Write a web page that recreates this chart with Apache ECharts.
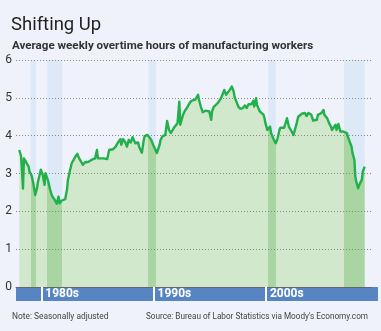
<!DOCTYPE html>
<html><head><meta charset="utf-8">
<script src="https://cdn.jsdelivr.net/npm/echarts@6/dist/echarts.min.js"></script>
<style>html,body{margin:0;padding:0;background:#EFF2FA}#c{width:381px;height:331px}</style>
</head><body><div id="c"></div>
<script>
// Average weekly overtime hours of manufacturing workers
const months = [
'1979-01','1979-03','1979-05','1979-06','1979-07','1979-09','1979-11','1979-12',
'1980-02','1980-04','1980-06','1980-08','1980-09','1980-12',
'1981-02','1981-04','1981-05','1981-07','1981-08','1981-10','1981-12',
'1982-01','1982-03','1982-05','1982-07','1982-08','1982-10','1982-12',
'1983-02','1983-04','1983-05','1983-07','1983-09','1983-11',
'1984-01','1984-03','1984-05','1984-07','1984-09','1984-11',
'1985-03','1985-04','1985-06','1985-08','1985-10','1985-12',
'1986-01','1986-03','1986-07','1986-09','1986-11',
'1987-01','1987-03','1987-05','1987-08','1987-11',
'1988-01','1988-02','1988-04','1988-06','1988-08','1988-10','1988-12',
'1989-02','1989-04','1989-05','1989-08','1989-09','1989-11','1989-12',
'1990-02','1990-03','1990-06','1990-08','1990-10','1990-12',
'1991-02','1991-04','1991-06','1991-07','1991-08','1991-10','1991-12',
'1992-01','1992-03','1992-05','1992-07','1992-09','1992-10','1992-12',
'1993-02','1993-04','1993-05','1993-07','1993-08','1993-10','1993-12',
'1994-02','1994-03','1994-05','1994-07','1994-09','1994-11','1994-12',
'1995-01','1995-03','1995-05','1995-06','1995-08','1995-10','1995-12',
'1996-02','1996-03','1996-05','1996-07','1996-09','1996-10','1996-12',
'1997-02','1997-04','1997-06','1997-07','1997-08','1997-10','1997-12',
'1998-02','1998-03','1998-05','1998-07','1998-09','1998-11','1998-12',
'1999-02','1999-04','1999-06','1999-08','1999-09','1999-11','1999-12',
'2000-02','2000-03','2000-04','2000-06','2000-08','2000-10','2000-11','2000-12',
'2001-02','2001-04','2001-05','2001-06','2001-07','2001-09','2001-11',
'2002-01','2002-03','2002-04','2002-06','2002-08','2002-10','2002-11',
'2003-01','2003-02','2003-04','2003-06','2003-08','2003-09','2003-11',
'2004-01','2004-03','2004-04','2004-06','2004-08','2004-10','2004-12',
'2005-01','2005-03','2005-05','2005-07','2005-08','2005-10','2005-12',
'2006-02','2006-03','2006-05','2006-06','2006-08','2006-10','2006-11',
'2007-01','2007-03','2007-04','2007-06','2007-08','2007-09','2007-11',
'2008-01','2008-03','2008-04','2008-06','2008-08','2008-09','2008-11','2008-12',
'2009-01','2009-03','2009-05','2009-07','2009-08','2009-10'
];
const overtime = [
3.62,3.45,2.60,3.40,3.36,3.27,3.18,3.05,
2.96,2.74,2.43,2.62,2.79,3.10,
2.96,2.70,3.01,2.96,2.79,2.57,2.41,
2.37,2.30,2.20,2.39,2.21,2.28,2.30,
2.32,2.57,2.83,3.05,3.27,3.36,
3.45,3.52,3.40,3.40,3.23,3.29,
3.31,3.27,3.36,3.36,3.40,3.62,
3.40,3.40,3.40,3.45,3.38,
3.62,3.67,3.64,3.71,3.84,
3.91,3.76,3.91,3.84,3.71,3.89,3.82,
3.96,3.99,3.80,3.82,3.71,3.76,3.55,
3.89,3.99,4.02,3.98,3.89,3.76,
3.65,3.54,3.49,3.76,3.89,3.98,3.93,
4.02,4.39,4.15,4.07,4.11,4.20,4.24,
4.33,4.90,4.29,4.46,4.55,4.66,4.73,
4.68,4.86,4.92,4.97,4.95,4.99,5.08,
4.95,4.77,4.62,4.62,4.66,4.70,4.64,
4.42,4.64,4.77,4.81,4.86,4.90,4.97,
5.08,5.21,5.08,5.03,5.12,5.21,5.30,
5.17,5.03,4.90,4.77,4.71,4.71,4.73,
4.80,4.73,4.83,4.81,4.83,4.92,4.77,
4.99,4.81,4.77,4.64,4.59,4.55,4.46,4.33,
4.15,4.11,4.24,4.07,4.02,3.89,3.80,
3.93,4.15,4.21,4.21,4.21,4.24,4.46,
4.24,4.20,4.11,4.02,4.07,4.29,4.50,
4.55,4.58,4.55,4.60,4.52,4.60,4.55,
4.55,4.40,4.40,4.42,4.55,4.60,4.60,
4.68,4.55,4.58,4.46,4.33,4.24,4.15,
4.17,4.29,4.15,4.31,4.11,4.15,4.11,
4.08,4.07,3.98,3.84,3.71,3.54,3.36,2.92,
2.79,2.61,2.74,2.83,3.05,3.18
];
const recessionStarts = ['1980-01','1981-07','1990-07','2001-03','2007-12'];
const recessionEnds   = ['1980-07','1982-11','1991-03','2001-11','2009-10'];
const decadeTicks  = ['1980-12-16','1990-12-16','2000-12-16'];
const decadeLabels = ['1980s','1990s','2000s'];
const yMin = 0, yMax = 6, yStep = 1;

function toTime(s){const p=s.split('-').map(Number);return new Date(p[0],p[1]-1,p[2]||1).getTime();}

const FONT = 'Roboto, "Noto Sans", sans-serif';
const LIGHT_GREEN = '#D1E8CC', DARK_GREEN = '#A8D5A2', BAND_BLUE = '#DDE9F6';

const seriesData = months.map((m,i)=>[toTime(m), overtime[i]]);
const tickTimes = decadeTicks.map(toTime);

const pieces = [];
let prev = null;
recessionStarts.forEach((s,i)=>{
  const a = toTime(s), b = toTime(recessionEnds[i]);
  pieces.push(prev===null ? {lt:a, color:LIGHT_GREEN} : {gt:prev, lt:a, color:LIGHT_GREEN});
  pieces.push({gte:a, lte:b, color:DARK_GREEN});
  prev = b;
});
pieces.push({gt:prev, color:LIGHT_GREEN});

const chart = echarts.init(document.getElementById('c'), null, {renderer:'canvas'});
chart.setOption({
  animation:false,
  backgroundColor:'#EFF2FA',
  textStyle:{fontFamily:FONT},
  title:[
    {text:'Shifting Up', left:6, top:11, textStyle:{fontFamily:FONT, fontSize:18.5, fontWeight:'normal', color:'#231F20'}},
    {text:'Average weekly overtime hours of manufacturing workers', left:7, top:35, textStyle:{fontFamily:FONT, fontSize:11.6, fontWeight:'bold', color:'#333'}},
    {text:'Note: Seasonally adjusted', left:7, top:308, textStyle:{fontFamily:FONT, fontSize:8.4, fontWeight:'normal', color:'#444'}},
    {text:"Source: Bureau of Labor Statistics via Moody's Economy.com", right:8, top:308, textStyle:{fontFamily:FONT, fontSize:8.2, fontWeight:'normal', color:'#444'}}
  ],
  graphic:[{type:'rect', z:0, shape:{x:16, y:287, width:362, height:14}, style:{fill:'#5785C4'}}],
  grid:{left:16, right:9, top:60, bottom:44, containLabel:false},
  visualMap:{show:false, type:'piecewise', seriesIndex:0, dimension:0, pieces:pieces},
  xAxis:{
    type:'value', min:toTime('1978-09-16'), max:toTime('2010-05-28'), z:5, scale:true,
    axisLine:{show:true, onZero:false, lineStyle:{color:'#666', width:1}},
    axisTick:{show:true, customValues:tickTimes, length:14, lineStyle:{color:'#fff', width:2}},
    axisLabel:{show:true, customValues:tickTimes, margin:7, align:'left', verticalAlign:'middle', padding:[0,0,0,4],
      color:'#fff', fontFamily:FONT, fontSize:12, fontWeight:'bold',
      formatter:function(v){const i=tickTimes.indexOf(v);return i>=0?decadeLabels[i]:'';}},
    splitLine:{show:false}
  },
  yAxis:{
    type:'value', min:yMin, max:yMax, interval:yStep, z:3,
    axisLine:{show:false}, axisTick:{show:false},
    axisLabel:{margin:4, color:'#333', fontFamily:FONT, fontSize:12},
    splitLine:{show:true, lineStyle:{type:[1,2], color:'#8a8a8a', width:1}}
  },
  series:[
    {type:'line', data:seriesData, symbol:'none', z:2, silent:true,
     lineStyle:{width:0, opacity:0}, areaStyle:{opacity:1},
     markArea:{silent:true, itemStyle:{color:BAND_BLUE}, label:{show:false},
       data:recessionStarts.map((s,i)=>[{xAxis:toTime(s), yAxis:yMin},{xAxis:toTime(recessionEnds[i]), yAxis:yMax}])}},
    {type:'line', data:seriesData, symbol:'none', z:6, silent:true,
     lineStyle:{width:2.4, color:'#22B04B', join:'round'}}
  ]
});
</script></body></html>
